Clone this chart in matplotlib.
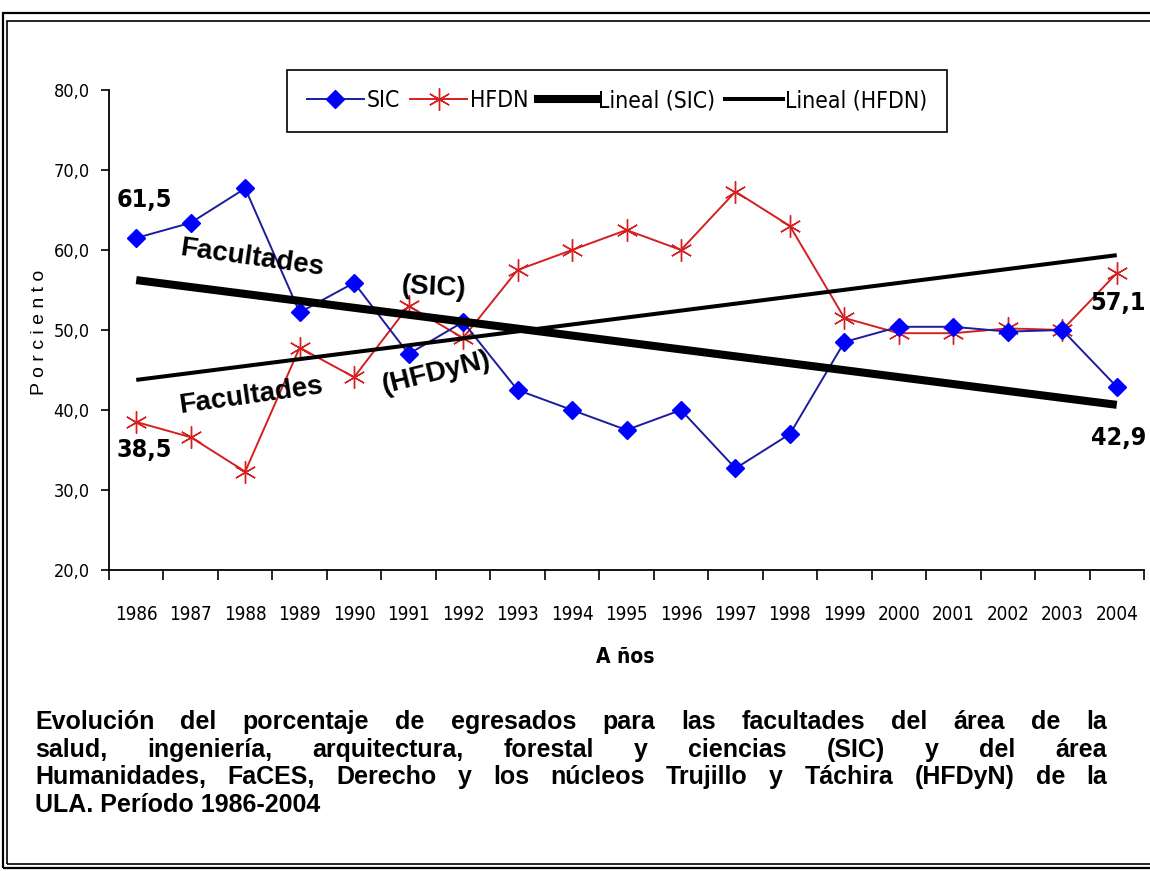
import numpy as np
import matplotlib
matplotlib.use('Agg')
import matplotlib.pyplot as plt
from matplotlib import font_manager
from matplotlib.font_manager import FontProperties
from matplotlib.lines import Line2D
from matplotlib.patches import Rectangle

# data
years = ['1986', '1987', '1988', '1989', '1990', '1991', '1992', '1993', '1994', '1995',
         '1996', '1997', '1998', '1999', '2000', '2001', '2002', '2003', '2004']
sic = [61.5, 63.4, 67.7, 52.2, 55.9, 47.0, 51.0, 42.5, 40.0, 37.5,
       40.0, 32.7, 37.0, 48.5, 50.4, 50.4, 49.8, 50.0, 42.9]
hfdn = [38.5, 36.6, 32.3, 47.8, 44.1, 53.0, 49.0, 57.5, 60.0, 62.5,
        60.0, 67.3, 63.0, 51.5, 49.6, 49.6, 50.2, 50.0, 57.1]
yticks = [20, 30, 40, 50, 60, 70, 80]

caption = ["Evolución del porcentaje de egresados para las facultades del área de la",
           "salud, ingeniería, arquitectura, forestal y ciencias (SIC) y del área",
           "Humanidades, FaCES, Derecho y los  núcleos Trujillo y Táchira (HFDyN)  de la",
           "ULA. Período 1986-2004"]

# pick a condensed face if there is one
fl = font_manager.fontManager.ttflist
if any(f.name == 'Liberation Sans Narrow' for f in fl):
    nk = dict(fontfamily='Liberation Sans Narrow', fontstretch='normal')
elif any(f.name == 'DejaVu Sans' and f.stretch == 'condensed' for f in fl):
    nk = dict(fontfamily='DejaVu Sans', fontstretch='condensed')
else:
    nk = dict(fontfamily='Liberation Sans', fontstretch='normal')
plt.rcParams['font.family'] = ['Liberation Sans', 'DejaVu Sans']

W, H = 1150, 871
fig = plt.figure(figsize=(W / 100, H / 100), dpi=100)
fig.patch.set_facecolor('white')

# double frame round the picture
for off, lw in [(3, 1.6), (7, 1.2)]:
    fig.add_artist(Rectangle((off / W, off / H), 1.2, 1 - 2 * off / H - (off + 7) / H,
                             transform=fig.transFigure, fill=False, ec='black', lw=lw))

ax = fig.add_axes([109 / W, 1 - 570 / H, 1035 / W, 480 / H])
x = np.arange(len(years))

ax.plot(x, sic, color='#1c1c9c', lw=1.4, marker='D', ms=9.5, mfc='#0000ff', mec='#0000ff',
        zorder=3, label='SIC')
ax.plot(x, hfdn, color='#d42020', lw=1.4, marker=(6, 2, 0), ms=16, mec='#d42020',
        mew=1.0, zorder=2, label='HFDN')

c1 = np.polyfit(x, sic, 1)
c2 = np.polyfit(x, hfdn, 1)
ax.plot(x, np.polyval(c1, x), color='black', lw=5.8, solid_capstyle='butt', zorder=4)
ax.plot(x, np.polyval(c2, x), color='black', lw=2.9, solid_capstyle='butt', zorder=4)

ax.set_xlim(-0.5, len(years) - 0.5)
ax.set_ylim(20, 80)
ax.set_xticks(np.arange(-0.5, len(years), 1))
ax.set_xticklabels([])
ax.set_xticks(x, minor=True)
ax.set_xticklabels(years, minor=True, fontsize=13.5, **nk)
ax.tick_params(axis='x', which='minor', length=0, pad=25)
ax.tick_params(axis='x', which='major', length=7, width=1.2, direction='out')
ax.set_yticks(yticks)
ax.set_yticklabels([f"{v:.1f}".replace('.', ',') for v in yticks], fontsize=13, **nk)
ax.tick_params(axis='y', length=6, width=1.2, direction='out', pad=8)
for s in ['top', 'right']:
    ax.spines[s].set_visible(False)
for s in ['left', 'bottom']:
    ax.spines[s].set_linewidth(1.3)

# value labels
bold_n = dict(fontweight='bold', fontsize=18, ha='center', va='center', **nk)
ax.text(0.15, 66.2, '61,5', **bold_n)
ax.text(0.15, 35.0, '38,5', **bold_n)
ax.text(18.02, 53.4, '57,1', **bold_n)
ax.text(18.03, 36.5, '42,9', **bold_n)

# line annotations
ann = dict(fontweight='bold', fontsize=20, ha='center', va='center', zorder=5)
ax.text(2.13, 59.0, 'Facultades', rotation=-8, **ann)
ax.text(5.46, 55.3, '(SIC)', rotation=-3, **ann)
ax.text(2.10, 41.8, 'Facultades', rotation=8, **ann)
ax.text(5.50, 44.6, '(HFDyN)', rotation=14, **ann)

fig.text(40 / W, 1 - 332 / H, 'P o r c i e n t o', rotation=90, ha='center', va='center',
         fontsize=14)
fig.text(625 / W, 1 - 657 / H, 'A ños', fontweight='bold', fontsize=15,
         ha='center', va='center', **nk)

handles = [Line2D([], [], color='#1c1c9c', lw=1.4, marker='D', ms=9.5, mfc='#0000ff', mec='#0000ff'),
           Line2D([], [], color='#d42020', lw=1.4, marker=(6, 2, 0), ms=16, mec='#d42020'),
           Line2D([], [], color='black', lw=5.8),
           Line2D([], [], color='black', lw=2.9)]
labels = ['SIC', 'HFDN', 'Lineal (SIC)', 'Lineal (HFDN)']
leg = fig.legend(handles, labels, loc='upper center', bbox_to_anchor=(617 / W, 1 - 70 / H),
                 bbox_transform=fig.transFigure, ncol=4, fancybox=False, framealpha=1,
                 edgecolor='black', handlelength=2.5, handletextpad=0.1, columnspacing=0.45,
                 borderpad=0.85, borderaxespad=0,
                 prop=FontProperties(family=nk['fontfamily'], stretch=nk['fontstretch'], size=16.5))
leg.get_frame().set_linewidth(1.2)

# caption, justified lines
fig.canvas.draw()
r = fig.canvas.get_renderer()
left, right = 35, 1107
for i, line in enumerate(caption):
    ypos = 1 - (722 + i * 27.5) / H
    if i == len(caption) - 1:
        fig.text(left / W, ypos, line, fontweight='bold', fontsize=18, va='center')
        continue
    words = line.split()
    ts = [fig.text(0, ypos, w, fontweight='bold', fontsize=18, va='center') for w in words]
    widths = [t.get_window_extent(r).width for t in ts]
    gap = (right - left - sum(widths)) / (len(words) - 1)
    xp = left
    for t, w in zip(ts, widths):
        t.set_x(xp / W)
        xp += w + gap

fig.savefig('out.png', dpi=100)
